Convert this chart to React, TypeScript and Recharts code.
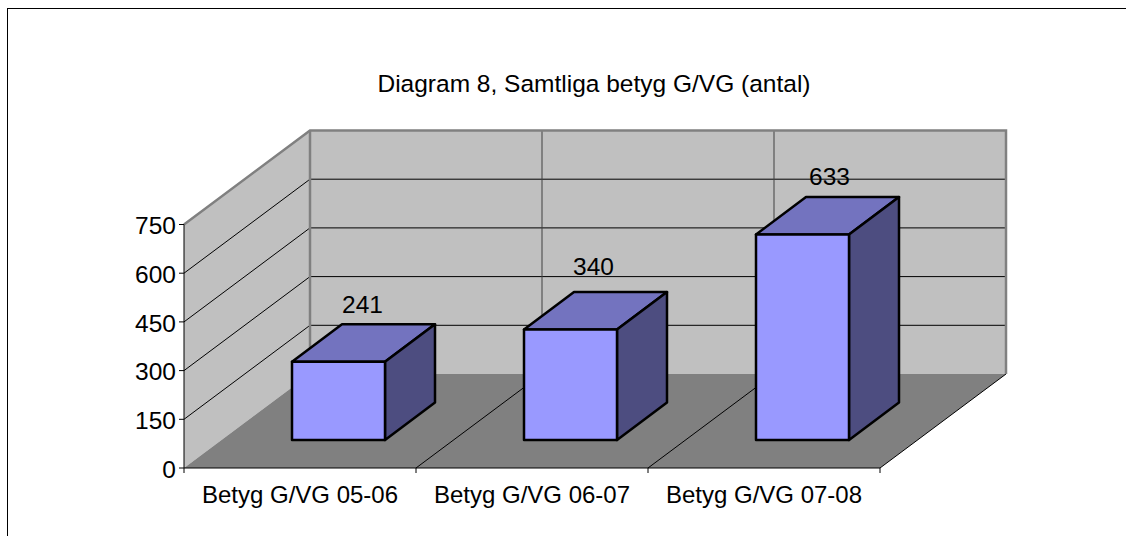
import React from 'react';
import { BarChart, Bar, XAxis, YAxis, LabelList, usePlotArea } from 'recharts';

const categories = ['Betyg G/VG 05-06', 'Betyg G/VG 06-07', 'Betyg G/VG 07-08'];
const values = [241, 340, 633];
const yTicks = [0, 150, 300, 450, 600, 750];
const title = 'Diagram 8, Samtliga betyg G/VG (antal)';

const chartData = categories.map((name, i) => ({ name, value: values[i] }));

const FONT = '"Liberation Sans", Arial, sans-serif';
const FONT_SIZE = 24.5;
const Y_MAX = 750;

// 3D projection offsets
const WALL_DX = 126;
const WALL_DY = -94;
const BAR_SHIFT_X = 38;
const BAR_SHIFT_Y = -28;
const BAR_DX = 50;
const BAR_DY = -37.5;

// the value labels do not sit at quite the same spot on each box
const LABEL_NUDGE_X = [24, 23, 27];
const LABEL_NUDGE_Y = [-49, -55, -49];

const pts = (list: number[][]) => list.map((p) => p.join(',')).join(' ');

// side wall, back wall and floor behind the bars
const Walls = () => {
  const plot = usePlotArea();
  if (!plot) return null;
  const { x, y, width, height } = plot;
  const right = x + width;
  const bottom = y + height;
  const band = width / categories.length;
  const yOf = (v: number) => y + height * (1 - v / Y_MAX);

  return (
    <g>
      <polygon points={pts([[x, bottom], [x + WALL_DX, bottom + WALL_DY], [x + WALL_DX, y + WALL_DY], [x, y]])} fill="#C0C0C0" />
      <rect x={x + WALL_DX} y={y + WALL_DY} width={width} height={height} fill="#C0C0C0" />
      <polygon points={pts([[x, bottom], [right, bottom], [right + WALL_DX, bottom + WALL_DY], [x + WALL_DX, bottom + WALL_DY]])} fill="#808080" />

      {yTicks.slice(1, -1).map((v) => (
        <g key={v} stroke="#000" strokeWidth={1}>
          <line x1={x} y1={yOf(v)} x2={x + WALL_DX} y2={yOf(v) + WALL_DY} />
          <line x1={x + WALL_DX} y1={yOf(v) + WALL_DY} x2={right + WALL_DX} y2={yOf(v) + WALL_DY} />
        </g>
      ))}
      {[1, 2].map((i) => (
        <line key={i} x1={x + WALL_DX + band * i} y1={y + WALL_DY} x2={x + WALL_DX + band * i} y2={bottom + WALL_DY} stroke="#404040" strokeWidth={1} />
      ))}
      {[1, 2, 3].map((i) => (
        <g key={i} stroke="#000" strokeWidth={1}>
          <line x1={x + band * i} y1={bottom} x2={x + band * i + WALL_DX} y2={bottom + WALL_DY} />
          <line x1={x + band * i} y1={bottom} x2={x + band * i} y2={bottom + 5} />
        </g>
      ))}
      <line x1={x} y1={bottom} x2={x} y2={bottom + 5} stroke="#000" />

      <polyline
        points={pts([[x, y], [x + WALL_DX, y + WALL_DY], [right + WALL_DX, y + WALL_DY], [right + WALL_DX, bottom + WALL_DY]])}
        fill="none"
        stroke="#808080"
        strokeWidth={2.5}
      />
      <line x1={x + WALL_DX} y1={y + WALL_DY} x2={x + WALL_DX} y2={bottom + WALL_DY} stroke="#808080" strokeWidth={2.5} />
    </g>
  );
};

const Box = (props: any) => {
  const x = props.x + BAR_SHIFT_X;
  const y = props.y + BAR_SHIFT_Y;
  const { width, height } = props;
  const r = x + width;
  const b = y + height;
  return (
    <g stroke="#000" strokeWidth={2.5} strokeLinejoin="round">
      <polygon points={pts([[x, y], [r, y], [r + BAR_DX, y + BAR_DY], [x + BAR_DX, y + BAR_DY]])} fill="#7373BF" />
      <polygon points={pts([[r, y], [r + BAR_DX, y + BAR_DY], [r + BAR_DX, b + BAR_DY], [r, b]])} fill="#4D4D80" />
      <rect x={x} y={y} width={width} height={height} fill="#9999FF" />
    </g>
  );
};

const BoxLabel = (props: any) => (
  <text
    x={props.x + props.width / 2 + BAR_SHIFT_X + LABEL_NUDGE_X[props.index]}
    y={props.y + BAR_SHIFT_Y + LABEL_NUDGE_Y[props.index]}
    textAnchor="middle"
    fontFamily={FONT}
    fontSize={FONT_SIZE}
    fill="#000"
  >
    {props.value}
  </text>
);

export default function App() {
  return (
    <div style={{ position: 'absolute', left: 0, top: 0, width: 1126, height: 536, background: '#fff', overflow: 'hidden' }}>
      <div style={{ position: 'absolute', left: 7, top: 8, width: 1126, height: 536, borderLeft: '1px solid #000', borderTop: '1px solid #000' }} />
      <div style={{ position: 'absolute', left: 0, top: 0 }}>
        <BarChart width={1126} height={536} data={chartData} margin={{ top: 224.5, right: 246, bottom: 38, left: 0 }}>
          <Walls />
          <text x={594} y={92} textAnchor="middle" fontFamily={FONT} fontSize={FONT_SIZE} fill="#000">
            {title}
          </text>
          <XAxis
            dataKey="name"
            tickLine={false}
            axisLine={{ stroke: '#000' }}
            tick={{ fill: '#000', fontFamily: FONT, fontSize: 24, dy: 2 }}
            tickMargin={10}
            interval={0}
          />
          <YAxis
            width={184}
            domain={[0, Y_MAX]}
            ticks={yTicks}
            tickSize={5}
            tickLine={{ stroke: '#000' }}
            axisLine={{ stroke: '#000' }}
            tick={{ fill: '#000', fontFamily: FONT, fontSize: FONT_SIZE, dy: 1 }}
            tickMargin={3}
          />
          <Bar dataKey="value" barSize={93} shape={<Box />} isAnimationActive={false}>
            <LabelList dataKey="value" content={<BoxLabel />} />
          </Bar>
        </BarChart>
      </div>
    </div>
  );
}
